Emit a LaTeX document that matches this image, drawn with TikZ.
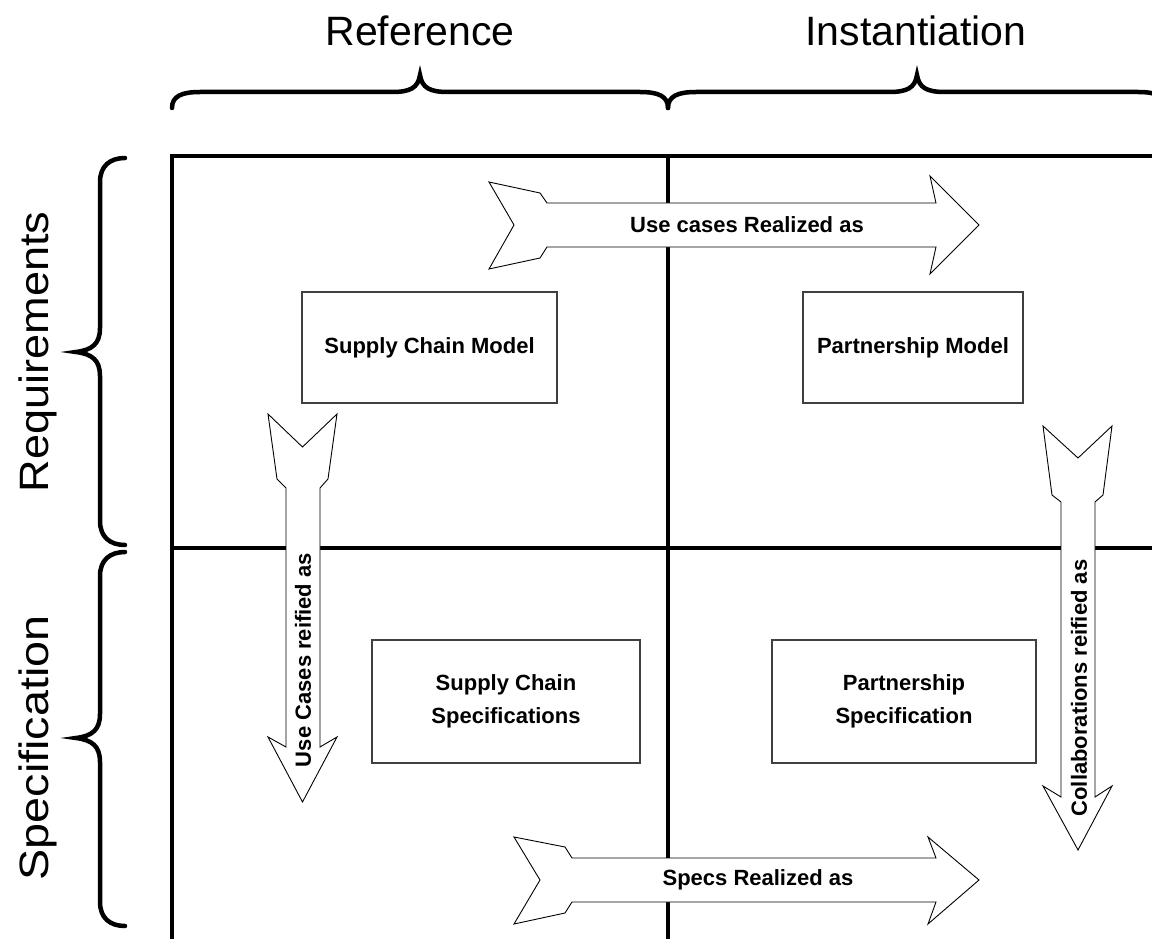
\documentclass[tikz,border=0pt]{standalone}
\usepackage{fontspec}
\setmainfont{Liberation Sans}
\begin{document}
\begin{tikzpicture}[x=1pt,y=-1pt,
  grid/.style={line width=3.6pt,black},
  brace/.style={line width=4.5pt,black,line cap=round},
  blockarrow/.style={draw=black,fill=white,line width=0.9pt,line join=miter},
  box/.style={draw=black!75,fill=white,line width=1.2pt,inner sep=0pt,align=center,
    font=\fontsize{22}{33}\selectfont\bfseries},
  lbl/.style={inner sep=0pt,font=\fontsize{22}{26}\selectfont\bfseries},
  head/.style={inner sep=0pt,font=\fontsize{41}{48}\selectfont}]
\useasboundingbox[fill=white] (0,0) rectangle (1152,939);

% titles
\node[head] (tref) at (420,31) {Reference};
\node[head] (tins) at (916,31) {Instantiation};
\node[head,rotate=90] (treq) at (38,352) {\scalebox{1.1}[1]{Requirements}};
\node[head,rotate=90] (tspec) at (38,748) {\scalebox{1.14}[1]{Specification}};

% top braces
\draw[brace] (172,108) .. controls (172,96) and (182,92) .. (200,92) -- (392,92)
  .. controls (410,92) and (418,88) .. (420,75) .. controls (422,88) and (430,92) .. (448,92)
  -- (640,92) .. controls (658,92) and (668,96) .. (668,108);
\draw[brace] (668,108) .. controls (668,96) and (678,92) .. (696,92) -- (889,92)
  .. controls (907,92) and (915,88) .. (917,75) .. controls (919,88) and (927,92) .. (945,92)
  -- (1138,92) .. controls (1156,92) and (1166,96) .. (1166,108);

% side braces
\draw[brace] (125,158) .. controls (110,158) and (100,166) .. (100,182) -- (100,328)
  .. controls (100,344) and (92,350) .. (76,352) .. controls (92,354) and (100,360) .. (100,376)
  -- (100,521) .. controls (100,537) and (110,545) .. (125,545);
\draw[brace] (125,552) .. controls (110,552) and (100,560) .. (100,576) -- (100,714)
  .. controls (100,730) and (92,736) .. (76,738) .. controls (92,740) and (100,746) .. (100,762)
  -- (100,902) .. controls (100,918) and (110,926) .. (125,926);

% grid
\coordinate (gtl) at (172,156);
\coordinate (gtr) at (1152,156);
\coordinate (gbl) at (172,939);
\coordinate (gtm) at (668,156);
\coordinate (gbm) at (668,939);
\coordinate (gml) at (172,548);
\coordinate (gmr) at (1152,548);
\draw[grid] (gtr) -- (gtl) -- (gbl);
\draw[grid] (gtm) -- (gbm);
\draw[grid] (gml) -- (gmr);

% boxes
\node[box,minimum width=255pt,minimum height=111pt] (scm) at (429.5,347.5) {Supply Chain Model};
\node[box,minimum width=220pt,minimum height=111pt] (pm) at (913,347.5) {Partnership Model};
\node[box,minimum width=268pt,minimum height=123pt] (scs) at (506,701.5) {Supply Chain\\Specifications};
\node[box,minimum width=264pt,minimum height=123pt] (ps) at (904,701.5) {Partnership\\Specification};

% block arrows
\draw[blockarrow] (489,182) -- (540,193) -- (547,203) -- (936,203) -- (930,176) -- (979,225)
  -- (930,274) -- (936,247) -- (547,247) -- (540,258) -- (489,269) -- (514,225) -- cycle;
\node[lbl] (a1) at (747,225) {Use cases Realized as};

\draw[blockarrow] (514,837) -- (565,847) -- (572,858) -- (936,858) -- (928,837) -- (979,880)
  -- (928,924) -- (936,902) -- (572,902) -- (565,913) -- (514,924) -- (540,880) -- cycle;
\node[lbl] (a2) at (758,880) {Specs Realized as};

\draw[blockarrow] (268,414) -- (277,479) -- (286,488) -- (286,747) -- (268,737) -- (302.5,802)
  -- (337,737) -- (320,747) -- (320,488) -- (328,479) -- (337,414) -- (302.5,447) -- cycle;
\node[lbl,rotate=90] (a3) at (303,660) {Use Cases reified as};

\draw[blockarrow] (1043,426) -- (1052,495) -- (1061,502) -- (1061,797) -- (1043,786) -- (1078,850)
  -- (1112,786) -- (1095,797) -- (1095,502) -- (1103,495) -- (1112,426) -- (1078,458) -- cycle;
\node[lbl,rotate=90] (a4) at (1079,688) {Collaborations reified as};
\end{tikzpicture}
\end{document}
